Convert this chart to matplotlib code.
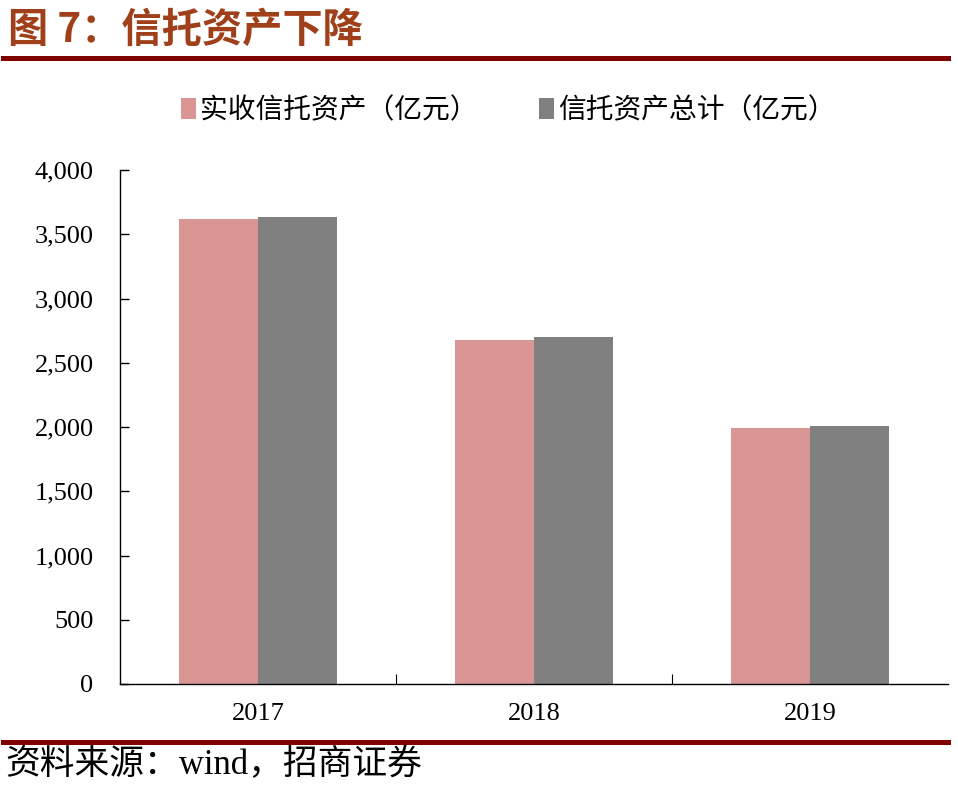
import matplotlib.pyplot as plt
import numpy as np
from matplotlib.lines import Line2D
from matplotlib.ticker import FuncFormatter

# values (亿元)
years = ["2017", "2018", "2019"]
paid_in = [3617, 2677, 1995]      # 实收信托资产
total = [3633, 2700, 2008]        # 信托资产总计
series_names = ["实收信托资产（亿元）", "信托资产总计（亿元）"]

plt.rcParams['font.family'] = ['Liberation Serif', 'Noto Sans CJK SC']

fig = plt.figure(figsize=(9.58, 7.98), dpi=100)
ax = fig.add_axes([120/958, 1 - 684/798, 828/958, 514/798])

x = np.arange(len(years))
w = 0.286
ax.bar(x - w/2, paid_in, w, color='#D99694', label=series_names[0])
ax.bar(x + w/2, total, w, color='#808080', label=series_names[1])

ax.set_xlim(-0.5, 2.5)
ax.set_ylim(0, 4000)
ax.set_yticks(np.arange(0, 4001, 500))
ax.yaxis.set_major_formatter(FuncFormatter(lambda v, p: f"{int(v):,}"))
ax.set_xticks(x)
ax.set_xticklabels(years)
ax.set_xticks([0.5, 1.5], minor=True)

for s in ['top', 'right']:
    ax.spines[s].set_visible(False)
for s in ['left', 'bottom']:
    ax.spines[s].set_linewidth(1.0)
    ax.spines[s].set_color('black')

ax.tick_params(axis='y', direction='in', length=6.5, width=1, labelsize=19, pad=19)
ax.tick_params(axis='x', which='major', length=0, labelsize=19, pad=14)
ax.tick_params(axis='x', which='minor', direction='in', length=7, width=0.8)

fig.legend(loc='center', bbox_to_anchor=(508/958, 1 - 110/798), ncol=2,
           frameon=False, handlelength=0.55, handleheight=0.8,
           handletextpad=0.15, columnspacing=2.2,
           prop={'family': ['Noto Sans CJK SC'], 'size': 20})

# title and rules
fig.text(8/958, 1 - 30/798, '图 7：信托资产下降', fontsize=29, fontweight='bold',
         color='#A0401A', va='center', family=['Noto Sans CJK SC'])
fig.add_artist(Line2D([3/958, 948/958], [1 - 57.5/798] * 2, lw=3.6, color='#800000'))
fig.add_artist(Line2D([3/958, 948/958], [1 - 741.5/798] * 2, lw=3.6, color='#800000'))
fig.text(5/958, 1 - 766/798, '资料来源：wind，招商证券', fontsize=25, va='center')

fig.savefig('out.png', dpi=100)
